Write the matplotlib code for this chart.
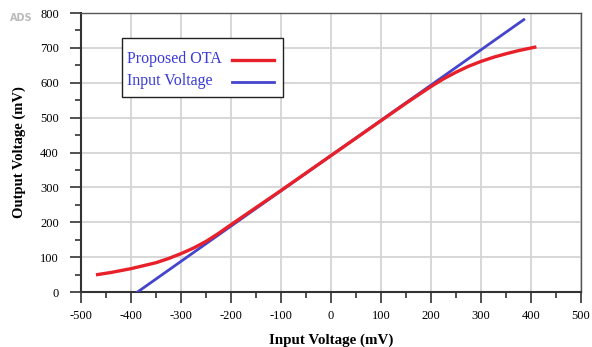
import matplotlib.pyplot as plt
from matplotlib.patches import Rectangle
from matplotlib.ticker import MultipleLocator

# data (mV)
ota_x = [-467, -440, -400, -350, -325, -300, -275, -250, -225, -200, -150, -100, -50, 0,
         50, 100, 150, 200, 225, 250, 275, 300, 325, 350, 375, 408]
ota_y = [50, 56, 67, 84, 96, 110, 126, 145, 168, 193, 242, 291, 341, 391,
         441, 491, 541, 589, 611, 630, 647, 661, 673, 683, 692, 702]
inp_x = [-387, 386]
inp_y = [0, 781]

plt.rcParams['font.family'] = ['Liberation Serif', 'DejaVu Serif']
plt.rcParams['axes.unicode_minus'] = False

fig = plt.figure(figsize=(5.92, 3.47), dpi=100)
ax = fig.add_axes([0.137, 0.1585, 0.844, 0.804])

ax.plot(ota_x, ota_y, color='#e8202a', lw=2.4, zorder=4, solid_joinstyle='round')
ax.plot(inp_x, inp_y, color='#4444cc', lw=2.0, zorder=3)

ax.set_xlim(-500, 500)
ax.set_ylim(0, 800)
ax.xaxis.set_major_locator(MultipleLocator(100))
ax.xaxis.set_minor_locator(MultipleLocator(50))
ax.yaxis.set_major_locator(MultipleLocator(100))
ax.yaxis.set_minor_locator(MultipleLocator(50))
ax.grid(True, which='major', color='#d4d4d4', lw=1.3)
ax.set_axisbelow(True)

ax.tick_params(which='major', direction='out', length=8, width=1.2, labelsize=9, color='#333333')
ax.tick_params(which='minor', direction='out', length=4, width=1.2, color='#333333')
ax.tick_params(axis='x', which='major', pad=5)
ax.tick_params(axis='y', which='major', pad=8)

for s in ['left', 'bottom']:
    ax.spines[s].set_color('#333333')
    ax.spines[s].set_linewidth(1.5)
for s in ['top', 'right']:
    ax.spines[s].set_color('#555555')
    ax.spines[s].set_linewidth(1.0)

ax.set_xlabel('Input Voltage (mV)', fontsize=10.8, fontweight='bold', labelpad=8)
ax.set_ylabel('Output Voltage (mV)', fontsize=10.5, fontweight='bold', labelpad=10)

# legend box drawn by hand: text left-aligned, line samples on the right
ax.add_patch(Rectangle((0.082, 0.699), 0.322, 0.211, transform=ax.transAxes,
                       facecolor='white', edgecolor='#222222', lw=1.0, zorder=5))
legend_items = [('Proposed OTA', '#e8202a', 0.835, 2.4), ('Input Voltage', '#4444cc', 0.758, 2.0)]
for label, col, yy, lw in legend_items:
    ax.text(0.092, yy, label, transform=ax.transAxes, fontsize=11.5, color='#3a3ad8',
            va='center', ha='left', zorder=6)
    ax.plot([0.302, 0.386], [yy - 0.004, yy - 0.004], transform=ax.transAxes,
            color=col, lw=lw, zorder=6)

fig.text(0.017, 0.94, 'ADS', fontsize=7, color='#bbbbbb', family='DejaVu Sans', fontweight='bold')

fig.savefig('out.png', dpi=100)
